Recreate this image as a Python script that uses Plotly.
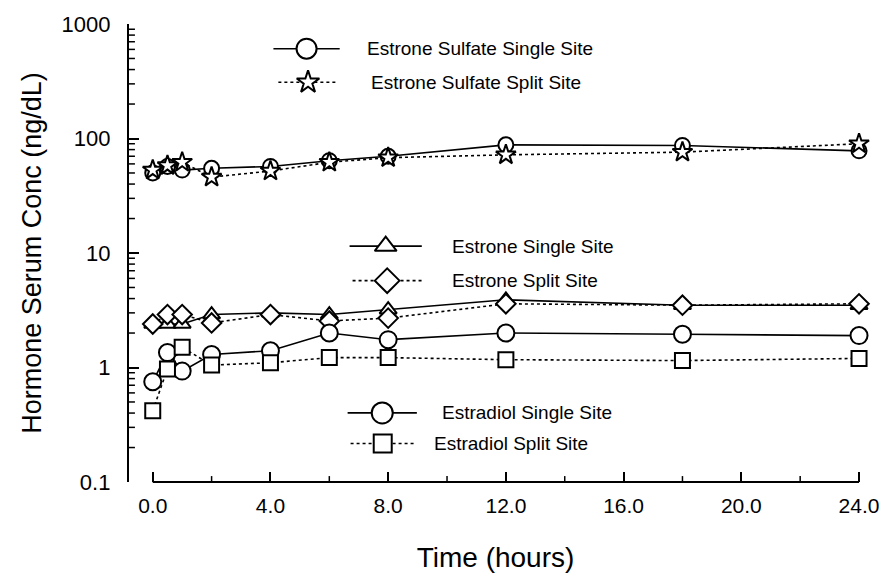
import plotly.graph_objects as go

# Sampling times (hours)
time_h = [0, 0.5, 1, 2, 4, 6, 8, 12, 18, 24]

# Serum concentrations (ng/dL)
es_single = [50, 57, 53, 55, 57, 64, 70, 88, 87, 78]
es_split = [53, 58, 62, 46, 52, 62, 68, 72, 76, 90]
e1_single = [2.4, 2.4, 2.4, 2.9, 3.0, 2.9, 3.2, 3.9, 3.5, 3.5]
e1_split = [2.4, 2.9, 2.9, 2.45, 2.9, 2.55, 2.7, 3.6, 3.5, 3.6]
e2_single = [0.75, 1.35, 0.93, 1.3, 1.4, 2.0, 1.75, 2.0, 1.95, 1.9]
e2_split = [0.42, 0.97, 1.5, 1.05, 1.1, 1.22, 1.22, 1.17, 1.15, 1.2]

x_ticks = [0, 4, 8, 12, 16, 20, 24]
x_tick_text = ["0.0", "4.0", "8.0", "12.0", "16.0", "20.0", "24.0"]
x_minor = [2, 6, 10, 14, 18, 22]
y_ticks = [0.1, 1, 10, 100, 1000]
y_tick_text = ["0.1", "1", "10", "100", "1000"]
y_minor = [m * 10 ** e for e in range(-1, 3) for m in range(2, 10)]

# (name, values, marker symbol, marker size, key marker size, line dash)
series = [
    ("Estrone Sulfate Single Site", es_single, "circle", 15, 20, "solid"),
    ("Estrone Sulfate Split Site", es_split, "star", 15, 17, "dot"),
    ("Estrone Single Site", e1_single, "triangle-up", 15, 19, "solid"),
    ("Estrone Split Site", e1_split, "diamond", 15, 19, "dot"),
    ("Estradiol Single Site", e2_single, "circle", 17, 21, "solid"),
    ("Estradiol Split Site", e2_split, "square", 15, 18, "dot"),
]

# Key entries in page pixels: (line start x, line end x, y, text x)
key_pos = [
    (275, 342, 43, 368),
    (280, 340, 77, 372),
    (352, 425, 243, 453),
    (355, 425, 278, 453),
    (350, 420, 412, 443),
    (353, 418, 443, 435),
]

FONT = "Liberation Sans, Arial, sans-serif"
W, H = 891, 582
L, R, T, B = 129, 870, 18, 482
px_per_h = 29.75
x0_pix = 153
px_per_decade = (B - T) / 4.0

x_left = -(x0_pix - L) / px_per_h
x_right = 24 + (R - 867) / px_per_h


def px_to_x(px):
    return x_left + (px - L) / px_per_h


def px_to_y(py):
    return 10 ** (3 - (py - T) / px_per_decade)


fig = go.Figure()

for name, vals, sym, size, ksize, dash in series:
    fig.add_trace(go.Scatter(
        x=time_h, y=vals, mode="lines+markers", name=name,
        line=dict(color="black", width=1.6, dash=dash),
        marker=dict(symbol=sym, size=size, color="white",
                    line=dict(color="black", width=2)),
        cliponaxis=False, showlegend=False,
    ))

# Minor tick marks along both axes
mx, my = [], []
for v in y_minor:
    mx += [x_left, px_to_x(L + 6), None]
    my += [v, v, None]
y_bot = px_to_y(B)
for v in x_minor:
    mx += [v, v, None]
    my += [y_bot, px_to_y(B - 6), None]
fig.add_trace(go.Scatter(
    x=mx, y=my, mode="lines", line=dict(color="black", width=1.5),
    showlegend=False, hoverinfo="skip", cliponaxis=False,
))

# Key samples placed by page pixel position
for (name, vals, sym, size, ksize, dash), (xa, xb, yk, xt) in zip(series, key_pos):
    xm = (xa + xb) / 2
    fig.add_trace(go.Scatter(
        x=[px_to_x(xa), px_to_x(xm), px_to_x(xb)],
        y=[px_to_y(yk)] * 3, mode="lines",
        line=dict(color="black", width=1.6, dash=dash),
        showlegend=False, hoverinfo="skip", cliponaxis=False,
    ))
    fig.add_trace(go.Scatter(
        x=[px_to_x(xm)], y=[px_to_y(yk)], mode="markers",
        marker=dict(symbol=sym, size=ksize, color="white",
                    line=dict(color="black", width=2)),
        showlegend=False, hoverinfo="skip", cliponaxis=False,
    ))
    fig.add_annotation(
        x=(xt - L) / (R - L), y=1 - (yk - T) / (B - T),
        xref="paper", yref="paper", text=name,
        showarrow=False, xanchor="left", yanchor="middle",
        font=dict(family=FONT, size=19, color="black"),
    )

fig.update_layout(
    width=W, height=H,
    margin=dict(l=L, r=W - R, t=T, b=H - B),
    paper_bgcolor="white", plot_bgcolor="white",
    font=dict(family=FONT, color="black"),
    xaxis=dict(
        range=[x_left, x_right], tickvals=x_ticks, ticktext=x_tick_text,
        ticks="inside", ticklen=10, tickwidth=2, tickcolor="black",
        showline=False, showgrid=False, zeroline=False,
        tickfont=dict(size=21, family=FONT),
        ticklabelstandoff=9,
        title=dict(text="Time (hours)", font=dict(size=28, family=FONT),
                   standoff=31),
    ),
    yaxis=dict(
        type="log", range=[-1, 3], tickvals=y_ticks, ticktext=y_tick_text,
        ticks="inside", ticklen=10, tickwidth=2, tickcolor="black",
        showline=True, linecolor="black", linewidth=2.4,
        showgrid=False, zeroline=False,
        tickfont=dict(size=22, family=FONT),
        ticklabelstandoff=12,
        title=dict(text="Hormone Serum Conc (ng/dL)",
                   font=dict(size=27, family=FONT), standoff=12),
    ),
    shapes=[dict(type="line", xref="x", yref="paper", x0=0, x1=24,
                 y0=0, y1=0, line=dict(color="black", width=2.2))],
)

fig.write_html("out.html")
